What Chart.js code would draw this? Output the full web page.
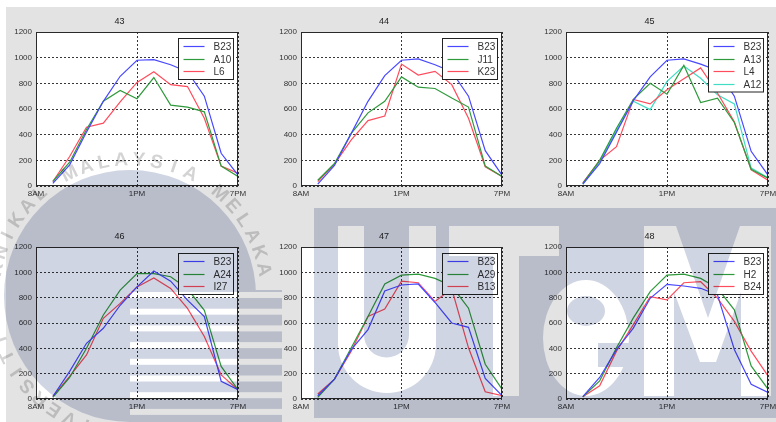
<!DOCTYPE html>
<html>
<head>
<meta charset="utf-8">
<script src="https://cdn.jsdelivr.net/npm/chart.js@4"></script>
<style>
  html, body { margin: 0; padding: 0; background: #fff; }
  #fig { position: relative; width: 776px; height: 422px; overflow: hidden; background: #fff; isolation: isolate; }
  #bg { position: absolute; left: 6px; top: 7px; width: 770px; height: 415px; background: #e3e3e3; }
  #fig canvas.panel { position: absolute; }
  #mark { position: absolute; left: 0; top: 0; mix-blend-mode: multiply; pointer-events: none; }
</style>
</head>
<body>
<div id="fig"><div id="bg"></div><canvas id="mark" width="776" height="422"></canvas></div>
<script>
// sample slots along the day axis and the labelled ticks
const slots = [1, 2, 3, 4, 5, 6, 7, 8, 9, 10, 11, 12];
const tickPos = [0, 6, 12];
const tickLabels = ['8AM', '1PM', '7PM'];

// panel 43
const b23_43 = [20, 165, 420, 660, 855, 980, 985, 945, 890, 700, 255, 85];
const a10_43 = [35, 185, 440, 660, 745, 680, 845, 630, 615, 578, 155, 75];
const l6_43  = [35, 230, 458, 490, 655, 807, 890, 790, 775, 528, 155, 100];
// panel 44
const b23_44 = [15, 160, 410, 660, 860, 980, 990, 945, 890, 700, 275, 85];
const j11_44 = [45, 175, 410, 570, 660, 850, 770, 760, 685, 615, 155, 75];
const k23_44 = [35, 170, 360, 510, 545, 950, 865, 893, 790, 528, 150, 75];
// panel 45
const b23_45 = [15, 175, 420, 665, 850, 980, 990, 950, 900, 700, 270, 85];
const a13_45 = [20, 200, 450, 675, 800, 715, 940, 650, 685, 495, 130, 60];
const l4_45  = [25, 200, 307, 675, 640, 750, 835, 920, 725, 500, 125, 45];
const a12_45 = [15, 190, 435, 660, 595, 815, 935, 840, 710, 640, 140, 65];
// panel 46
const b23_46 = [20, 218, 440, 558, 740, 885, 1010, 930, 780, 650, 140, 73];
const a24_46 = [13, 170, 400, 663, 860, 990, 990, 965, 870, 700, 257, 73];
const i27_46 = [20, 178, 348, 637, 755, 885, 956, 873, 715, 493, 190, 73];
// panel 47
const b23_47 = [26, 157, 390, 548, 853, 900, 908, 762, 600, 566, 162, 26];
const a29_47 = [13, 157, 404, 652, 908, 978, 986, 952, 892, 717, 274, 78];
const b13_47 = [40, 157, 378, 652, 710, 930, 918, 770, 870, 404, 57, 26];
// panel 48
const b23_48 = [18, 170, 390, 560, 795, 905, 892, 874, 822, 391, 117, 52];
const h2_48  = [18, 143, 404, 640, 848, 978, 986, 952, 874, 704, 261, 78];
const b24_48 = [18, 104, 378, 587, 808, 783, 918, 926, 796, 613, 378, 183];

const BLUE = '#4848ff', GREEN = '#2f9a3c', RED = '#ff4c5c', CYAN = '#40dcc4';

const panels = [
  { title: '43', col: 0, row: 0, series: [['B23', b23_43, BLUE], ['A10', a10_43, GREEN], ['L6', l6_43, RED]] },
  { title: '44', col: 1, row: 0, series: [['B23', b23_44, BLUE], ['J11', j11_44, GREEN], ['K23', k23_44, RED]] },
  { title: '45', col: 2, row: 0, series: [['B23', b23_45, BLUE], ['A13', a13_45, GREEN], ['L4', l4_45, RED], ['A12', a12_45, CYAN]] },
  { title: '46', col: 0, row: 1, series: [['B23', b23_46, BLUE], ['A24', a24_46, GREEN], ['I27', i27_46, RED]] },
  { title: '47', col: 1, row: 1, series: [['B23', b23_47, BLUE], ['A29', a29_47, GREEN], ['B13', b13_47, RED]] },
  { title: '48', col: 2, row: 1, series: [['B23', b23_48, BLUE], ['H2', h2_48, GREEN], ['B24', b24_48, RED]] }
];

// plot-area edges of the 3x2 grid
const colLeft = [36, 301, 566], colRight = [238, 502, 768];
const rowTop = [32, 247], rowBottom = [186, 399];
const AXIS_W = 35, TITLE_H = 21, XAXIS_H = 18, PAD_R = 14;

const FONT = '"Liberation Sans", Arial, Helvetica, sans-serif';
const GRID = 'rgba(20,20,20,0.85)';

const plotBg = {
  id: 'plotBg',
  beforeDraw(chart) {
    const { ctx, chartArea: a } = chart;
    ctx.save();
    ctx.fillStyle = '#fff';
    ctx.fillRect(a.left, a.top, a.right - a.left, a.bottom - a.top);
    ctx.restore();
  }
};

const frame = {
  id: 'frame',
  afterDatasetsDraw(chart) {
    const { ctx, chartArea: a } = chart;
    ctx.save();
    ctx.strokeStyle = '#2a2a2a';
    ctx.lineWidth = 1;
    const l = Math.round(a.left) + 0.5, t = Math.round(a.top) + 0.5;
    const r = Math.round(a.right) - 0.5, b = Math.round(a.bottom) - 0.5;
    ctx.strokeRect(l, t, r - l, b - t);
    ctx.restore();
  }
};

const boxLegend = {
  id: 'boxLegend',
  afterDraw(chart) {
    const { ctx, chartArea: a } = chart;
    const ds = chart.data.datasets;
    const w = 55, rowH = 12.5, h = 16 + (ds.length - 1) * rowH;
    const x0 = Math.round(a.right - 5 - w) + 0.5, y0 = Math.round(a.top + 6) + 0.5;
    ctx.save();
    ctx.fillStyle = '#fff';
    ctx.fillRect(x0, y0, w, h);
    ctx.strokeStyle = '#222';
    ctx.lineWidth = 1;
    ctx.strokeRect(x0, y0, w, h);
    ctx.font = '10px ' + FONT;
    ctx.textBaseline = 'middle';
    ds.forEach((d, i) => {
      const cy = Math.round(y0 + 7.5 + i * rowH) + 0.5;
      ctx.strokeStyle = d.borderColor;
      ctx.lineWidth = 1.2;
      ctx.beginPath();
      ctx.moveTo(x0 + 5, cy);
      ctx.lineTo(x0 + 26, cy);
      ctx.stroke();
      ctx.fillStyle = '#333';
      ctx.fillText(d.label, x0 + 35, cy + 0.5);
    });
    ctx.restore();
  }
};

const fig = document.getElementById('fig');
const markCanvas = document.getElementById('mark');

panels.forEach(p => {
  const pl = colLeft[p.col], pr = colRight[p.col], pt = rowTop[p.row], pb = rowBottom[p.row];
  const cv = document.createElement('canvas');
  cv.className = 'panel';
  const w = (pr - pl) + AXIS_W + PAD_R, h = (pb - pt) + TITLE_H + XAXIS_H;
  cv.width = w; cv.height = h;
  cv.style.width = w + 'px'; cv.style.height = h + 'px';
  cv.style.left = (pl - AXIS_W) + 'px';
  cv.style.top = (pt - TITLE_H) + 'px';
  fig.insertBefore(cv, markCanvas);

  new Chart(cv, {
    type: 'line',
    data: {
      datasets: p.series.map(([label, vals, color]) => ({
        label,
        data: slots.map((x, i) => ({ x, y: vals[i] })),
        borderColor: color,
        borderWidth: 1.2,
        pointRadius: 0,
        tension: 0,
        fill: false
      }))
    },
    options: {
      responsive: false,
      animation: false,
      devicePixelRatio: 1,
      layout: { padding: { left: 0, right: PAD_R, top: 0, bottom: 0 } },
      plugins: {
        legend: { display: false },
        tooltip: { enabled: false },
        title: {
          display: true, text: p.title, color: '#222',
          font: { family: FONT, size: 9, weight: 'normal', lineHeight: 11 / 9 },
          padding: { top: 5, bottom: 5 }
        }
      },
      scales: {
        x: {
          type: 'linear', min: 0, max: 12,
          afterBuildTicks: s => { s.ticks = tickPos.map(v => ({ value: v })); },
          afterFit: s => { s.height = XAXIS_H; },
          ticks: {
            autoSkip: false, maxRotation: 0, padding: 3, color: '#333',
            font: { family: FONT, size: 8 },
            callback: v => tickLabels[tickPos.indexOf(v)]
          },
          grid: { color: GRID, lineWidth: 1, drawTicks: false },
          border: { display: false, dash: [2, 2] }
        },
        y: {
          min: 0, max: 1200,
          afterFit: s => { s.width = AXIS_W; },
          ticks: {
            stepSize: 200, padding: 4, color: '#333', font: { family: FONT, size: 8 },
            callback: v => String(v)
          },
          grid: { color: GRID, lineWidth: 1, drawTicks: false },
          border: { display: false, dash: [2, 2] }
        }
      }
    },
    plugins: [plotBg, frame, boxLegend]
  });
});

// faint university crest and lettering laid over the figure
(function drawMark() {
  const g = markCanvas.getContext('2d');
  const tint = '#d0d5e3';

  // crest disc
  g.fillStyle = tint;
  g.beginPath();
  g.arc(130, 296, 126, 0, Math.PI * 2);
  g.fill();

  // striped lower-right quarter of the crest
  g.save();
  g.beginPath();
  g.rect(130, 290, 152, 132);
  g.clip();
  g.fillStyle = '#fff';
  g.fillRect(130, 290, 152, 132);
  g.fillStyle = tint;
  for (let y = 281.3; y < 422; y += 16.7) g.fillRect(130, y, 152, 10.7);
  g.restore();

  // ring lettering
  g.fillStyle = '#d4d4d4';
  g.font = 'bold 19px ' + FONT;
  g.textAlign = 'center';
  g.textBaseline = 'middle';
  const ring = 'UNIVERSITI TEKNIKAL MALAYSIA MELAKA';
  const step = 7.5 * Math.PI / 180;
  const mid = ring.indexOf('MALAYSIA') + 3.5;
  for (let i = 0; i < ring.length; i++) {
    const ang = -Math.PI / 2 + (i - mid) * step;
    g.save();
    g.translate(130 + 136 * Math.cos(ang), 296 + 136 * Math.sin(ang));
    g.rotate(ang + Math.PI / 2);
    g.fillText(ring[i], 0, 0);
    g.restore();
  }

  // wordmark band
  g.fillStyle = tint;
  g.fillRect(314, 208, 462, 210);
  g.fillStyle = '#fff';
  // U
  g.beginPath();
  g.moveTo(338, 226); g.lineTo(338, 344);
  g.arc(387, 344, 49, Math.PI, 0, true);
  g.lineTo(436, 226); g.closePath();
  g.moveTo(409, 226); g.lineTo(409, 335);
  g.arc(386.5, 335, 22.5, 0, Math.PI, false);
  g.lineTo(364, 226); g.closePath();
  g.fill('evenodd');
  // T
  g.fillRect(449, 226, 110, 30);
  g.fillRect(493, 256, 26, 140);
  // e
  g.beginPath();
  g.ellipse(586, 338, 43, 58, 0, 0, Math.PI * 2);
  g.fill();
  g.fillStyle = tint;
  g.beginPath();
  g.ellipse(586, 311, 19, 15, 0, 0, Math.PI * 2);
  g.fill();
  g.fillRect(598, 343, 34, 24);
  // M
  g.fillStyle = '#fff';
  g.beginPath();
  [[644, 396], [644, 226], [676, 226], [708, 318], [740, 226], [771, 226], [771, 396],
   [741, 396], [741, 292], [716, 362], [700, 362], [674, 292], [674, 396]]
    .forEach(([x, y], i) => i ? g.lineTo(x, y) : g.moveTo(x, y));
  g.closePath();
  g.fill();
})();
</script>
</body>
</html>
